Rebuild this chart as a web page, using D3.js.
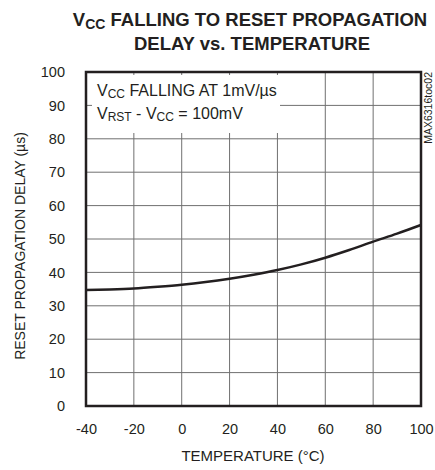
<!DOCTYPE html>
<html>
<head>
<meta charset="utf-8">
<script src="https://cdn.jsdelivr.net/npm/d3@7"></script>
<style>
  body { margin: 0; background: #fff; }
  svg text { font-family: "Liberation Sans", Arial, sans-serif; fill: #231f20; }
</style>
</head>
<body>
<div id="chart"></div>
<script>
// temperature (°C) vs reset propagation delay (µs)
const temps = [-40, -30, -20, -10, 0, 10, 20, 30, 40, 50, 60, 70, 80, 90, 100];
const delays = [34.7, 34.9, 35.2, 35.7, 36.3, 37.1, 38.1, 39.3, 40.7, 42.4, 44.4, 46.7, 49.2, 51.6, 54.2];
const xTicks = [-40, -20, 0, 20, 40, 60, 80, 100];
const yTicks = [0, 10, 20, 30, 40, 50, 60, 70, 80, 90, 100];

const W = 435, H = 470;
const margin = { top: 72, right: 14, bottom: 64, left: 86 };
const width = W - margin.left - margin.right,
  height = H - margin.top - margin.bottom;

const svg = d3.select("#chart").append("svg")
  .attr("width", W)
  .attr("height", H);

const g = svg.append("g").attr("transform", `translate(${margin.left},${margin.top})`);

const x = d3.scaleLinear().domain([-40, 100]).range([0, width]);
const y = d3.scaleLinear().domain([0, 100]).range([height, 0]);

// grid
g.append("g")
  .selectAll("line")
  .data(xTicks.slice(1, -1))
  .join("line")
  .attr("x1", d => x(d)).attr("x2", d => x(d))
  .attr("y1", 0).attr("y2", height)
  .attr("stroke", "#707070").attr("stroke-width", 1);

g.append("g")
  .selectAll("line")
  .data(yTicks.slice(1, -1))
  .join("line")
  .attr("x1", 0).attr("x2", width)
  .attr("y1", d => y(d)).attr("y2", d => y(d))
  .attr("stroke", "#707070").attr("stroke-width", 1);

// white box behind the annotation
g.append("rect")
  .attr("x", 6).attr("y", 3)
  .attr("width", 188).attr("height", 58)
  .attr("fill", "#fff");

// tick labels (plain hyphen for negatives, like the original)
const fmt = d => String(d);
const xAxis = g.append("g")
  .attr("transform", `translate(0,${height})`)
  .call(d3.axisBottom(x).tickValues(xTicks).tickFormat(fmt).tickSize(0).tickPadding(18));
const yAxis = g.append("g")
  .call(d3.axisLeft(y).tickValues(yTicks).tickFormat(fmt).tickSize(0).tickPadding(21));
[xAxis, yAxis].forEach(a => {
  a.select(".domain").remove();
  a.selectAll("text").attr("font-size", 14.5).attr("fill", "#231f20")
    .attr("font-family", "'Liberation Sans', Arial, sans-serif");
});

// frame
g.append("rect")
  .attr("width", width).attr("height", height)
  .attr("fill", "none")
  .attr("stroke", "#231f20").attr("stroke-width", 2.5);

// curve
const line = d3.line()
  .x((d, i) => x(temps[i]))
  .y(d => y(d))
  .curve(d3.curveMonotoneX);

g.append("path")
  .datum(delays)
  .attr("fill", "none")
  .attr("stroke", "#231f20")
  .attr("stroke-width", 2.5)
  .attr("d", line);

// annotation
const ann = g.append("text").attr("font-size", 16);
const l1 = ann.append("tspan").attr("x", 11).attr("y", 24);
l1.append("tspan").text("V");
l1.append("tspan").attr("font-size", 12).attr("dy", 2).text("CC");
l1.append("tspan").attr("dy", -2).text(" FALLING AT 1mV/µs");
const l2 = ann.append("tspan").attr("x", 11).attr("y", 47);
l2.append("tspan").text("V");
l2.append("tspan").attr("font-size", 12).attr("dy", 2).text("RST");
l2.append("tspan").attr("dy", -2).text(" - V");
l2.append("tspan").attr("font-size", 12).attr("dy", 2).text("CC");
l2.append("tspan").attr("dy", -2).text(" = 100mV");

// titles
const t = svg.append("text")
  .attr("text-anchor", "middle")
  .attr("font-size", 18.5)
  .attr("font-weight", "bold");
const t1 = t.append("tspan").attr("x", 250).attr("y", 26);
t1.append("tspan").text("V");
t1.append("tspan").attr("font-size", 14).attr("dy", 3).text("CC");
t1.append("tspan").attr("dy", -3).text(" FALLING TO RESET PROPAGATION");
t.append("tspan").attr("x", 252).attr("y", 50).text("DELAY vs. TEMPERATURE");

svg.append("text")
  .attr("x", 253).attr("y", 461)
  .attr("text-anchor", "middle")
  .attr("font-size", 15)
  .text("TEMPERATURE (°C)");

svg.append("text")
  .attr("transform", `translate(25,246) rotate(-90)`)
  .attr("text-anchor", "middle")
  .attr("font-size", 14)
  .text("RESET PROPAGATION DELAY (µs)");

svg.append("text")
  .attr("transform", `translate(432,72) rotate(-90)`)
  .attr("text-anchor", "end")
  .attr("font-size", 10.5)
  .text("MAX6316toc02");
</script>
</body>
</html>
